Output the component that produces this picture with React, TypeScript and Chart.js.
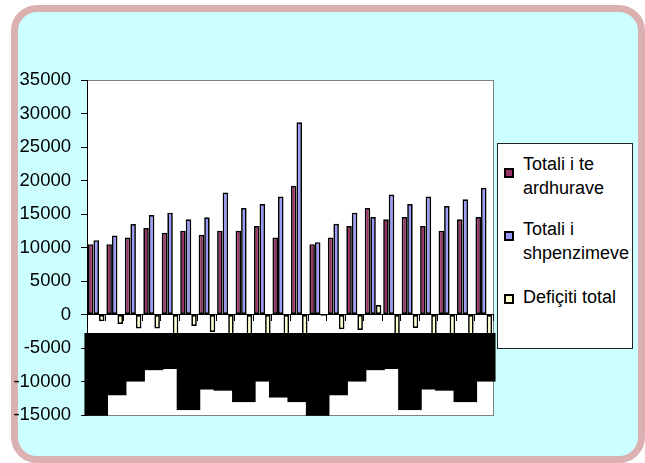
import React, { useEffect, useRef } from "react";
import { Chart, registerables } from "chart.js";

Chart.register(...registerables);

// Category labels (Albanian months, two years)
const categories = [
  "Janar 05", "Shkurt", "Mars", "Prill", "Maj", "Qershor", "Korrik", "Gusht",
  "Shtator", "Tetor", "Nëntor", "Dhjetor",
  "Janar 06", "Shkurt", "Mars", "Prill", "Maj", "Qershor", "Korrik", "Gusht",
  "Shtator", "Tetor",
];

const revenue = [
  10500, 10500, 11500, 12900, 12200, 12500, 11900, 12500, 12500, 13200, 11500, 19200,
  10500, 11500, 13200, 15900, 14200, 14550, 13200, 12500, 14200, 14550,
];

const spending = [
  11100, 11800, 13500, 14850, 15200, 14200, 14500, 18200, 15900, 16500, 17600, 28700,
  10800, 13550, 15200, 14550, 17900, 16500, 17600, 16200, 17200, 18900,
];

const deficit = [
  -1000, -1400, -2100, -2100, -3000, -1700, -2600, -5700, -3400, -3300, -6100, -9500,
  -200, -2200, -2300, 1400, -3700, -2000, -4400, -3700, -3000, -4350,
];

const seriesLabels = [
  ["Totali i te", "ardhurave"],
  ["Totali i", "shpenzimeve"],
  ["Defiçiti total"],
];
const seriesColors = ["#993366", "#9999FF", "#FFFFCC"];

const yMin = -15000;
const yMax = 35000;
const yStep = 5000;

const FONT = "'Liberation Sans', Arial, sans-serif";

const plotFrame = {
  id: "plotFrame",
  beforeDraw(chart: any) {
    const { ctx, chartArea: a } = chart;
    ctx.save();
    ctx.fillStyle = "#ffffff";
    ctx.fillRect(a.left, a.top, a.right - a.left, a.bottom - a.top);
    ctx.strokeStyle = "#808080";
    ctx.lineWidth = 1;
    ctx.strokeRect(
      Math.round(a.left) + 0.5,
      Math.round(a.top) + 0.5,
      Math.round(a.right - a.left),
      Math.round(a.bottom - a.top)
    );
    ctx.restore();
  },
};

export default function App() {
  const canvasRef = useRef<HTMLCanvasElement | null>(null);

  useEffect(() => {
    const canvas = canvasRef.current;
    if (!canvas) return;
    const datasets = [revenue, spending, deficit].map((data, i) => ({
      label: seriesLabels[i].join(" "),
      data,
      backgroundColor: seriesColors[i],
      borderColor: "#000000",
      borderWidth: 1.7,
      borderSkipped: false as const,
      categoryPercentage: 0.9,
      barPercentage: 1.0,
    }));
    const chart = new Chart(canvas, {
      type: "bar",
      data: { labels: categories, datasets },
      plugins: [plotFrame],
      options: {
        animation: false,
        responsive: false,
        maintainAspectRatio: false,
        layout: { padding: { left: 0, top: 80, right: 152, bottom: 48 } },
        plugins: {
          legend: { display: false },
          tooltip: { enabled: false },
        },
        scales: {
          x: {
            axis: "x",
            type: "category",
            position: { y: 0 } as any,
            offset: true,
            grid: {
              offset: true,
              drawOnChartArea: false,
              drawTicks: true,
              tickLength: 6,
              color: "#000000",
            },
            border: { display: true, color: "#000000", width: 1 },
            ticks: {
              autoSkip: false,
              minRotation: 90,
              maxRotation: 90,
              padding: 14,
              labelOffset: -11.8,
              color: "#000000",
              font: { family: FONT, size: 20.5, lineHeight: 1.15 },
              showLabelBackdrop: true,
              backdropColor: "#000000",
              backdropPadding: { left: 1.5, right: 1.5, top: 0, bottom: 0 },
              z: 1,
            } as any,
          },
          y: {
            min: yMin,
            max: yMax,
            afterFit: (scale: any) => {
              scale.width = 87;
            },
            ticks: {
              stepSize: yStep,
              padding: 10,
              color: "#000000",
              font: { family: FONT, size: 18.5 },
              callback: (v: any) => String(v),
            },
            grid: {
              drawOnChartArea: false,
              drawTicks: true,
              tickLength: 6,
              color: "#000000",
            },
            border: { display: true, color: "#000000", width: 1 },
          },
        },
      },
    });
    return () => chart.destroy();
  }, []);

  const markerTops = [168, 231, 294];
  const textTops = [152, 217, 285];

  return (
    <div style={{ position: "fixed", left: 0, top: 0, width: 645, height: 463, background: "#ffffff", overflow: "hidden" }}>
      <div
        style={{
          position: "absolute",
          left: 11,
          top: 5,
          width: 634,
          height: 458,
          boxSizing: "border-box",
          border: "7px solid #DAB0B0",
          borderRadius: 26,
          background: "#CCFFFF",
        }}
      />
      <canvas
        ref={canvasRef}
        width={645}
        height={463}
        style={{ position: "absolute", left: 0, top: 0, width: 645, height: 463 }}
      />
      <div
        style={{
          position: "absolute",
          left: 497,
          top: 143,
          width: 136,
          height: 206,
          boxSizing: "border-box",
          border: "1px solid #222222",
          background: "#ffffff",
        }}
      />
      {seriesLabels.map((lines, i) => (
        <React.Fragment key={i}>
          <div
            style={{
              position: "absolute",
              left: 504,
              top: markerTops[i],
              width: 6,
              height: 6,
              border: "2px solid #000000",
              background: seriesColors[i],
            }}
          />
          <div
            style={{
              position: "absolute",
              left: 523,
              top: textTops[i],
              fontFamily: FONT,
              fontSize: 18,
              lineHeight: "24px",
              color: "#000000",
              whiteSpace: "nowrap",
            }}
          >
            {lines.map((t, j) => (
              <div key={j}>{t}</div>
            ))}
          </div>
        </React.Fragment>
      ))}
    </div>
  );
}
